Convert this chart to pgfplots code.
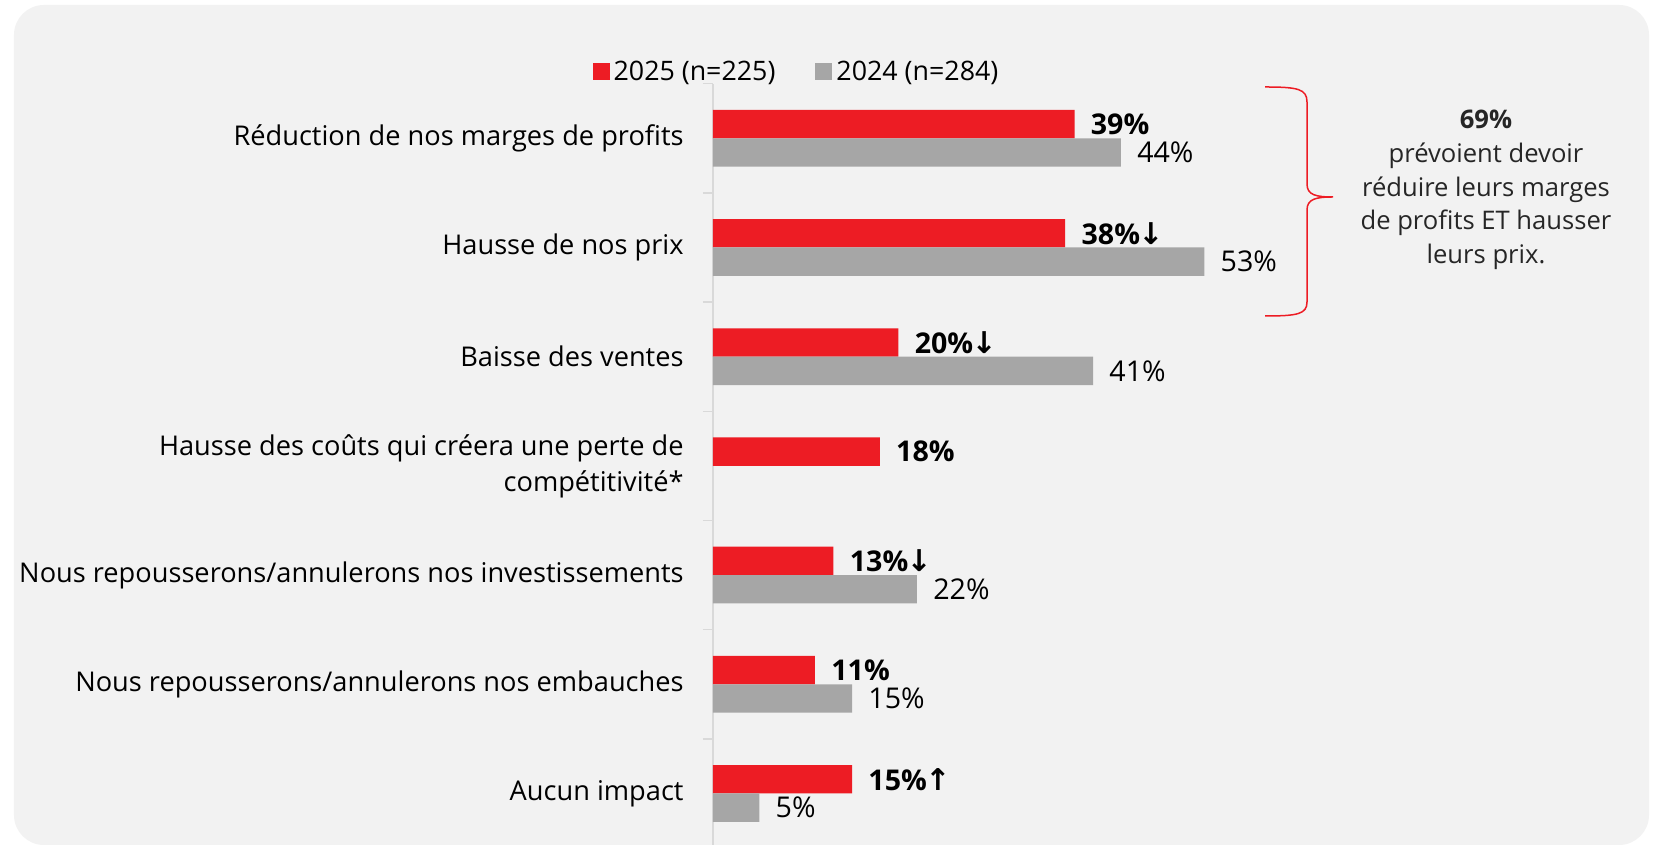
\documentclass[border=0pt]{standalone}
\usepackage{pgfplots}
\pgfplotsset{compat=1.18}
\usepackage{fontspec}
\setmainfont{Open Sans}
\newfontfamily\arrowfont{DejaVu Sans}
\definecolor{barred}{HTML}{ED1C24}
\definecolor{bargray}{HTML}{A6A6A6}
\definecolor{bgcol}{HTML}{F2F2F2}
\definecolor{axcol}{HTML}{D9D9D9}
\definecolor{annot}{HTML}{262626}
\newcommand\dn{\kern-0.8pt{\arrowfont\bfseries\fontsize{15pt}{18pt}\selectfont ↓}}
\newcommand\up{\kern-0.8pt{\arrowfont\bfseries\fontsize{15pt}{18pt}\selectfont ↑}}
\newcommand\lblfont{\fontsize{13.6pt}{18pt}\selectfont}
\newcommand\valfont{\fontsize{14.3pt}{18pt}\selectfont}
\begin{document}
\begin{tikzpicture}
\begin{scope}[x=0.5pt,y=-0.5pt,shift={(-356.5pt,422.5pt)}]
\fill[white] (0,0) rectangle (1655,845);
\fill[bgcol, rounded corners=15pt] (14,5) rectangle (1649,845);
\end{scope}
\begin{axis}[
  at={(0pt,0pt)}, anchor=south west,
  scale only axis, width=370.8pt, height=380.65pt,
  xmin=0, xmax=80, ymin=-0.472, ymax=6.5,
  xbar, bar width=14.2pt,
  axis x line=none, xtick=\empty,
  axis y line*=left,
  y axis line style={axcol, line width=0.75pt, -},
  ytick={0,1,2,3,4,5,6},
  yticklabels={Aucun impact, Nous repousserons/annulerons nos embauches, Nous repousserons/annulerons nos investissements, {Hausse des coûts qui créera une perte de\\compétitivité*}, Baisse des ventes, Hausse de nos prix, Réduction de nos marges de profits},
  major tick length=0pt,
  minor ytick={0.5,1.5,2.5,3.5,4.5,5.5,6.5},
  minor tick length=5pt,
  tick align=outside,
  minor tick style={axcol, line width=0.75pt},
  yticklabel style={align=right, font=\lblfont, inner sep=0pt, xshift=-14.5pt, text=black},
  nodes near coords, point meta=explicit symbolic,
  every node near coord/.append style={anchor=west, inner sep=0pt, xshift=8pt, font=\valfont, text=black},
  clip=false,
  legend columns=2,
  legend cell align=left,
  legend style={at={(0.1139,1.0154)}, anchor=center, draw=none, fill=none, font=\fontsize{13.4pt}{16pt}\selectfont, /tikz/every even column/.append style={column sep=18pt}},
]
\addplot[fill=barred, draw=none, bar shift=7.1pt, legend image code/.code={\fill[barred] (0pt,-4.25pt) rectangle (8.5pt,4.25pt);}] coordinates {
 (15,0) [\textbf{15\%}\up]
 (11,1) [\textbf{11\%}]
 (13,2) [\textbf{13\%}\dn]
 (18,3) [\textbf{18\%}]
 (20,4) [\textbf{20\%}\dn]
 (38,5) [\textbf{38\%}\dn]
 (39,6) [\textbf{39\%}]
};
\addlegendentry{2025 (n=225)}
\addplot[fill=bargray, draw=none, bar shift=-7.1pt, legend image code/.code={\fill[bargray] (0pt,-4.25pt) rectangle (8.5pt,4.25pt);}] coordinates {
 (5,0) [5\%]
 (15,1) [15\%]
 (22,2) [22\%]
 (41,4) [41\%]
 (53,5) [53\%]
 (44,6) [44\%]
};
\addlegendentry{2024 (n=284)}
\end{axis}
\begin{scope}[x=0.5pt,y=-0.5pt,shift={(-356.5pt,422.5pt)}]
\draw[barred, line width=0.75pt] (1265,87) .. controls (1298,87) and (1307,89) .. (1307,102) -- (1307,184) .. controls (1307,195) and (1316,197) .. (1333,197) .. controls (1316,197) and (1307,199) .. (1307,210) -- (1307,302) .. controls (1307,314) and (1298,316) .. (1265,316);
\node[text=annot, align=center, font=\fontsize{12.8pt}{16.9pt}\selectfont] at (1486,190) {\textbf{69\%}\\prévoient devoir\\réduire leurs marges\\de profits ET hausser\\leurs prix.};
\pgfresetboundingbox
\path[use as bounding box] (0,0) rectangle (1655,845);
\end{scope}
\end{tikzpicture}
\end{document}
